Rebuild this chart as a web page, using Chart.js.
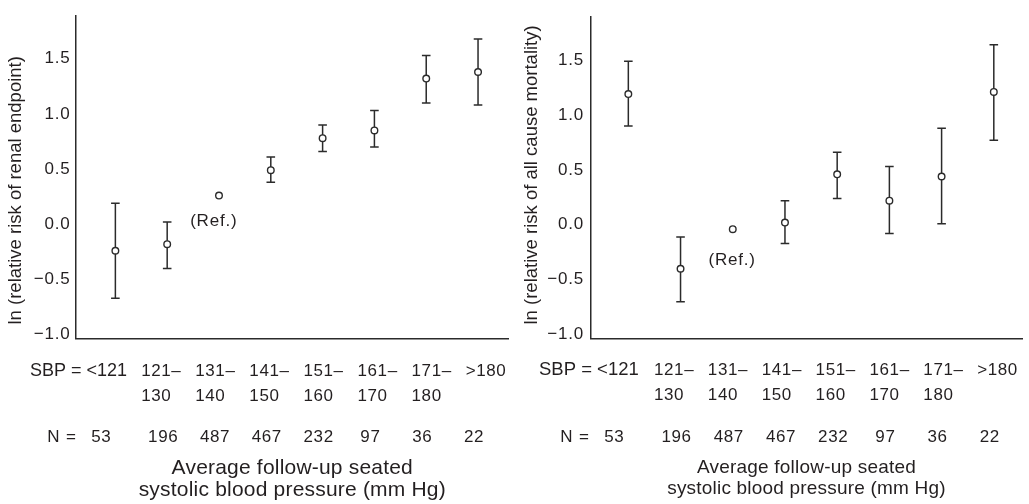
<!DOCTYPE html>
<html>
<head>
<meta charset="utf-8">
<script src="https://cdn.jsdelivr.net/npm/chart.js@4.4.0/dist/chart.umd.min.js"></script>
<style>
  html, body { margin: 0; padding: 0; background: #fff; }
  .wrap { display: flex; width: 1029px; height: 504px; }
  .panel { position: relative; height: 504px; }
  #leftPanel { width: 514px; }
  #rightPanel { width: 515px; }
</style>
</head>
<body>
<div class="wrap">
  <div class="panel" id="leftPanel"><canvas id="renalChart"></canvas></div>
  <div class="panel" id="rightPanel"><canvas id="mortChart"></canvas></div>
</div>
<script>
//-----------------------------------------------------
// SBP category vs ln(relative risk), two panels
//-----------------------------------------------------

const sbpLine1 = ['<121', '121\u2013', '131\u2013', '141\u2013', '151\u2013', '161\u2013', '171\u2013', '>180'];
const sbpLine2 = ['', '130', '140', '150', '160', '170', '180', ''];
const groupN = ['53', '196', '487', '467', '232', '97', '36', '22'];
const yTicks = [-1.0, -0.5, 0.0, 0.5, 1.0, 1.5];

// renal endpoint: point estimate and 95% CI (131-140 is the reference group)
const renalRisk  = [-0.24, -0.18, 0.26, 0.49, 0.78, 0.85, 1.32, 1.38];
const renalUpper = [0.19, 0.02, null, 0.61, 0.90, 1.03, 1.53, 1.68];
const renalLower = [-0.67, -0.40, null, 0.38, 0.66, 0.70, 1.10, 1.08];

// all cause mortality
const mortRisk  = [1.19, -0.40, -0.04, 0.02, 0.46, 0.22, 0.44, 1.21];
const mortUpper = [1.49, -0.11, null, 0.22, 0.66, 0.53, 0.88, 1.64];
const mortLower = [0.90, -0.70, null, -0.17, 0.24, -0.08, 0.01, 0.77];

const INK = '#2b2b2b';
const TEXT = '#231f20';
const FAMILY = '"Liberation Sans", Arial, Helvetica, sans-serif';
const font = (size) => size + 'px ' + FAMILY;

// vertical CI whiskers with caps, drawn under the markers
const errorBars = {
    id: 'errorBars',
    beforeDatasetsDraw(chart, args, opts) {
        const { ctx, scales: { x, y } } = chart;
        ctx.save();
        ctx.strokeStyle = INK;
        ctx.lineWidth = 1.5;
        opts.upper.forEach((hi, i) => {
            const lo = opts.lower[i];
            if (hi == null || lo == null) return;
            const px = x.getPixelForValue(i + 1);
            const yHi = y.getPixelForValue(hi);
            const yLo = y.getPixelForValue(lo);
            ctx.beginPath();
            ctx.moveTo(px, yHi); ctx.lineTo(px, yLo);
            ctx.moveTo(px - 4.3, yHi); ctx.lineTo(px + 4.3, yHi);
            ctx.moveTo(px - 4.3, yLo); ctx.lineTo(px + 4.3, yLo);
            ctx.stroke();
        });
        ctx.restore();
    }
};

// category rows, N row, axis titles and the (Ref.) note
const panelText = {
    id: 'panelText',
    beforeDraw(chart) {
        chart.ctx.letterSpacing = '0.8px';
    },
    afterDraw(chart, args, o) {
        const { ctx, chartArea: a, scales: { x } } = chart;
        const bw = a.width / sbpLine1.length;
        ctx.save();
        ctx.fillStyle = TEXT;
        ctx.textBaseline = 'alphabetic';
        ctx.textAlign = 'left';

        // first SBP category carries the row prefix
        ctx.letterSpacing = '0px';
        ctx.font = font(o.sbpSize);
        ctx.fillText('SBP = ' + sbpLine1[0], a.left + o.sbpX, o.rowY[0]);

        ctx.letterSpacing = '0.6px';
        ctx.font = font(17);
        sbpLine1.forEach((t, i) => {
            if (i === 0) return;
            const tx = a.left + i * bw + o.labelX;
            ctx.fillText(t, tx, o.rowY[0]);
            if (sbpLine2[i]) ctx.fillText(sbpLine2[i], tx, o.rowY[1]);
        });

        // N = ... row
        const p0 = x.getPixelForValue(1);
        ctx.fillText('N', p0 - 68, o.rowY[2]);
        ctx.textAlign = 'center';
        ctx.fillText('=', p0 - 44, o.rowY[2]);
        groupN.forEach((t, i) => {
            const px = x.getPixelForValue(i + 1) + (i === 0 ? -14 : -4);
            ctx.fillText(t, px, o.rowY[2]);
        });

        // reference group note
        ctx.letterSpacing = '0.8px';
        ctx.fillText('(Ref.)', x.getPixelForValue(3) + o.refDx,
            chart.scales.y.getPixelForValue(o.refValue) + o.refDy);

        // x title
        ctx.letterSpacing = '0.2px';
        ctx.font = font(o.titleSize);
        const cx = (a.left + a.right) / 2;
        ctx.fillText('Average follow-up seated', cx, o.titleY[0]);
        ctx.fillText('systolic blood pressure (mm Hg)', cx, o.titleY[1]);

        // y title, rotated, running up from the bottom
        ctx.letterSpacing = '0px';
        ctx.font = font(18.5);
        ctx.translate(o.yTitleX, 324.5);
        ctx.rotate(-Math.PI / 2);
        ctx.textAlign = 'left';
        ctx.fillText(o.yTitle, 0, 0);
        ctx.restore();
        ctx.letterSpacing = '0px';
    }
};

function makeChart(id, risk, upper, lower, p) {
    const ctx = document.getElementById(id);
    return new Chart(ctx.getContext('2d'), {
        type: 'scatter',
        data: {
            datasets: [{
                data: risk.map((v, i) => ({ x: i + 1, y: v })),
                pointRadius: 3.3,
                pointBorderWidth: 1.4,
                pointBackgroundColor: '#ffffff',
                pointBorderColor: INK,
                showLine: false
            }]
        },
        options: {
            responsive: true,
            maintainAspectRatio: false,
            animation: false,
            events: [],
            layout: { padding: { left: 0, top: 7, right: p.padRight, bottom: 0 } },
            plugins: {
                legend: { display: false },
                tooltip: { enabled: false },
                errorBars: { upper, lower },
                panelText: p.text
            },
            scales: {
                x: {
                    type: 'linear',
                    min: p.xMin,
                    max: p.xMax,
                    grid: { display: false, drawTicks: false },
                    ticks: { display: false },
                    border: { display: true, color: INK, width: 1.5 },
                    afterFit: s => { s.height = 165.5; }
                },
                y: {
                    min: -1.035,
                    max: 1.89,
                    afterBuildTicks: s => { s.ticks = yTicks.map(v => ({ value: v })); },
                    afterFit: s => { s.width = p.axisLeft; },
                    grid: { display: false, drawTicks: false },
                    border: { display: true, color: INK, width: 1.5 },
                    ticks: {
                        padding: p.tickPad,
                        color: TEXT,
                        font: { family: FAMILY, size: 17 },
                        callback: v => (v < 0 ? '\u2212' : '') + Math.abs(v).toFixed(1)
                    }
                }
            }
        },
        plugins: [errorBars, panelText]
    });
}

makeChart('renalChart', renalRisk, renalUpper, renalLower, {
    xMin: 0.24, xMax: 8.59, axisLeft: 76, padRight: 2, tickPad: 5.5,
    text: {
        yTitle: 'ln (relative risk of renal endpoint)', yTitleX: 21.1,
        labelX: 11.1, sbpX: -46, sbpSize: 18,
        rowY: [376, 401, 441.5], titleY: [474, 496], titleSize: 21,
        refValue: renalRisk[2], refDx: -5.2, refDy: 30
    }
});

makeChart('mortChart', mortRisk, mortUpper, mortLower, {
    xMin: 0.285, xMax: 8.54, axisLeft: 77, padRight: 7, tickPad: 7,
    text: {
        yTitle: 'ln (relative risk of all cause mortality)', yTitleX: 22.8,
        labelX: 9.1, sbpX: -52, sbpSize: 18.5,
        rowY: [375, 400, 441.5], titleY: [472.5, 493.5], titleSize: 19,
        refValue: mortRisk[2], refDx: -0.6, refDy: 35.5
    }
});
</script>
</body>
</html>
